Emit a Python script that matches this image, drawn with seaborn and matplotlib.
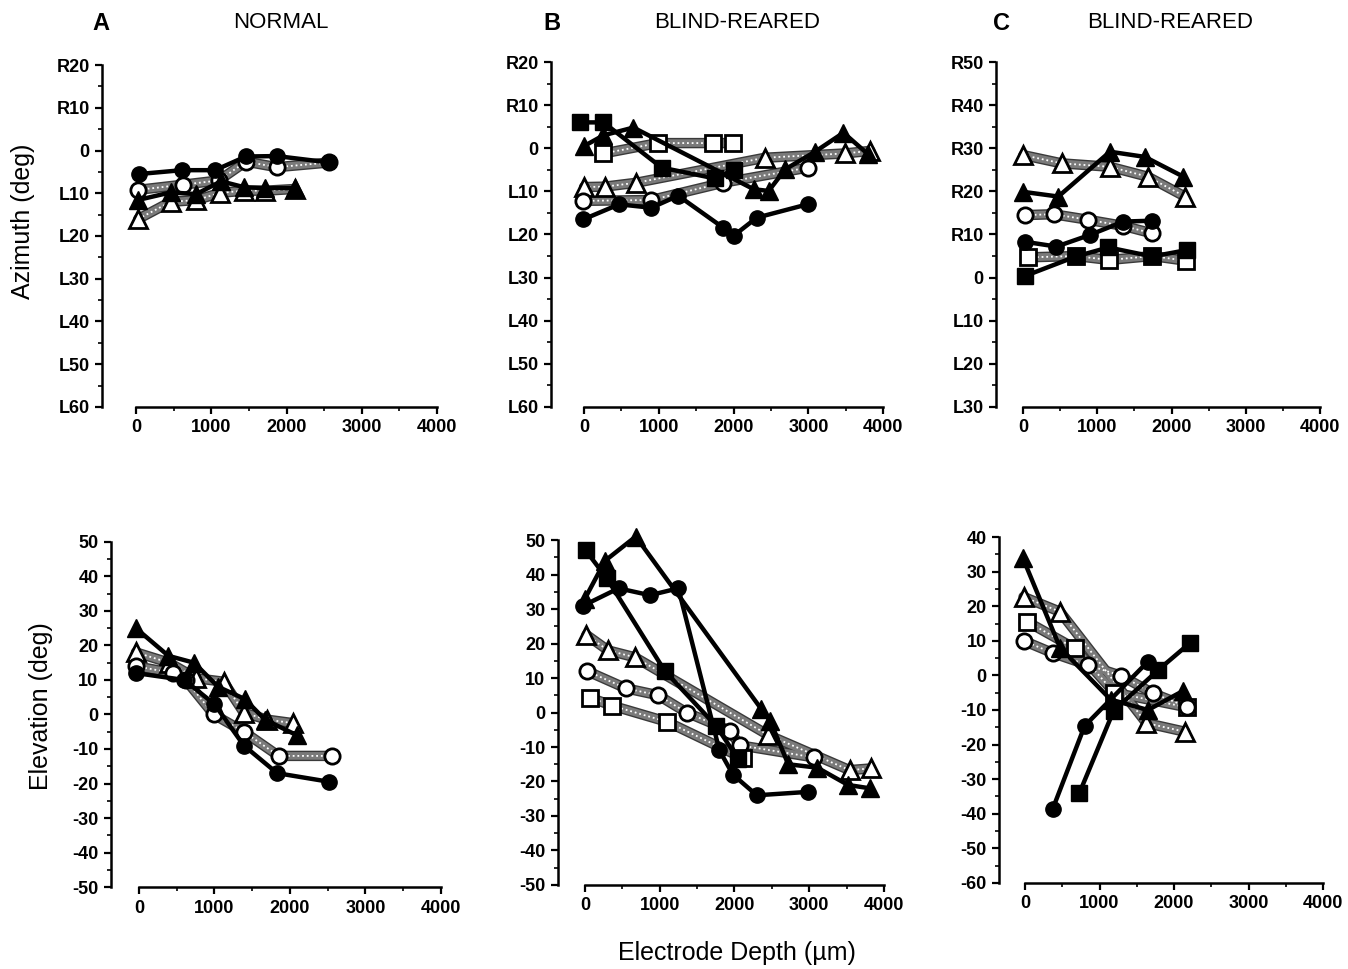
import pandas as pd
import matplotlib
matplotlib.use("Agg")
import matplotlib.pyplot as plt
import seaborn as sns
from matplotlib.ticker import MultipleLocator, FuncFormatter

# (depth in um, angle in deg); azimuth: right = positive, left = negative

# --- A, normal, azimuth
a_az_filled_circle = [(40, -5.5), (610, -4.6), (1050, -4.6), (1460, -1.4), (1870, -1.3), (2570, -2.8)]
a_az_open_circle = [(30, -9.2), (620, -8.0), (1100, -7.0), (1460, -2.6), (1870, -3.9), (2570, -2.8)]
a_az_filled_triangle = [(20, -11.6), (460, -9.8), (800, -10.2), (1130, -7.2), (1440, -8.6), (1720, -8.8), (2110, -8.8)]
a_az_open_triangle = [(30, -16.0), (460, -12.0), (800, -11.6), (1120, -9.9), (1440, -9.4), (1720, -9.4), (2110, -9.0)]

# --- A, normal, elevation
a_el_filled_triangle = [(-40, 25), (390, 17), (730, 15), (1050, 8), (1400, 4.5), (1670, -1.5), (2090, -6)]
a_el_open_triangle = [(-40, 18), (400, 15), (760, 10.5), (1120, 9.5), (1390, 0.5), (1700, -1.5), (2040, -2.5)]
a_el_open_circle = [(-40, 14), (450, 12), (620, 10), (990, 0), (1390, -5), (1850, -12), (2560, -12)]
a_el_filled_circle = [(-40, 12), (600, 10), (1000, 3), (1390, -9), (1830, -17), (2520, -19.5)]

# --- B, blind-reared, azimuth
b_az_filled_square = [(-50, 6), (260, 6), (1040, -4.5), (1750, -7), (2000, -5)]
b_az_filled_triangle = [(0, 0.5), (260, 3), (660, 4.8), (2270, -9.5), (2470, -9.9), (2690, -4.9),
                        (3090, -0.8), (3470, 3.6), (3800, -1.4)]
b_az_filled_circle = [(-10, -16.5), (470, -13), (900, -13.8), (1260, -11), (1860, -18.4), (2000, -20.3),
                      (2310, -16.1), (2990, -13)]
b_az_open_square = [(260, -1.2), (990, 1.2), (1730, 1.2), (1990, 1.2)]
b_az_open_triangle = [(0, -9), (280, -8.9), (700, -8), (2420, -2.2), (3490, -1.2), (3830, -0.6)]
b_az_open_circle = [(-10, -12.2), (900, -12), (1860, -8), (2990, -4.5)]

# --- B, blind-reared, elevation
b_el_filled_square = [(10, 47), (290, 39), (1070, 12), (1760, -4), (2050, -13.5)]
b_el_filled_triangle = [(0, 33), (270, 44), (680, 51), (2360, 1), (2480, -2.5), (2720, -15), (3110, -16),
                        (3520, -21), (3820, -22)]
b_el_filled_circle = [(-20, 31), (450, 36), (870, 34), (1250, 36), (1800, -11), (1980, -18), (2300, -24),
                      (2990, -23)]
b_el_open_triangle = [(20, 22.5), (310, 18), (670, 16), (2450, -6.5), (3540, -16.7), (3830, -16.2)]
b_el_open_circle = [(30, 12), (550, 7), (980, 5), (1360, 0), (1940, -5.3), (2070, -9.5), (3060, -13)]
b_el_open_square = [(70, 4.3), (360, 2), (1100, -2.7), (2120, -13.3)]

# --- C, blind-reared, azimuth
c_az_open_triangle = [(5, 28.4), (520, 26.5), (1170, 25.7), (1680, 23.4), (2180, 18.8)]
c_az_filled_triangle = [(0, 19.9), (475, 18.8), (1170, 29.2), (1640, 28), (2160, 23.4)]
c_az_open_circle = [(30, 14.5), (410, 14.7), (880, 13.4), (1350, 12), (1730, 10.3)]
c_az_filled_circle = [(30, 8.3), (450, 7.2), (900, 9.9), (1350, 13), (1740, 13.2)]
c_az_filled_square = [(30, 0.4), (710, 4.9), (1150, 7), (1740, 4.9), (2210, 6.4)]
c_az_open_square = [(60, 4.7), (710, 5), (1160, 4.1), (1740, 5), (2200, 3.9)]

# --- C, blind-reared, elevation
c_el_filled_triangle = [(-30, 34), (470, 8), (1150, -7), (1650, -10), (2120, -4.5)]
c_el_open_triangle = [(-20, 22.7), (470, 18.4), (1630, -13.8), (2150, -16.3)]
c_el_open_square = [(30, 15.5), (670, 7.8), (1200, -5), (2170, -9.2)]
c_el_open_circle = [(-20, 10), (380, 6.4), (840, 3), (1290, -0.1), (1720, -5.2), (2170, -9)]
c_el_filled_circle = [(370, -38.7), (800, -14.6), (1650, 4)]
c_el_filled_square = [(730, -34), (1190, -10.2), (1790, 1.6), (2210, 9.3)]

panel_letters = ["A", "B", "C"]
panel_titles = ["NORMAL", "BLIND-REARED", "BLIND-REARED"]
az_limits = [(-60, 20), (-60, 20), (-30, 50)]
el_limits = [(-50, 50), (-50, 50), (-60, 40)]

sns.set_theme(style="ticks")
plt.rcParams["font.family"] = ["Liberation Sans", "DejaVu Sans"]
plt.rcParams["text.color"] = "black"
plt.rcParams["axes.labelcolor"] = "black"
plt.rcParams["xtick.color"] = "black"
plt.rcParams["ytick.color"] = "black"
plt.rcParams["axes.unicode_minus"] = False

SIZES = {"o": 11, "s": 11, "^": 13}


def draw_open(ax, pts, marker):
    df = pd.DataFrame(pts, columns=["depth", "deg"])
    sns.lineplot(data=df, x="depth", y="deg", ax=ax, color="#3a3a3a", lw=7.5,
                 sort=False, estimator=None, zorder=2, clip_on=False)
    sns.lineplot(data=df, x="depth", y="deg", ax=ax, color="#7a7a7a", lw=5.5,
                 sort=False, estimator=None, zorder=2.05, clip_on=False)
    sns.lineplot(data=df, x="depth", y="deg", ax=ax, color="white", lw=1.3,
                 linestyle=(0, (1, 1.6)), sort=False, estimator=None, zorder=2.1, clip_on=False)
    sns.lineplot(data=df, x="depth", y="deg", ax=ax, linestyle="none", marker=marker,
                 markersize=SIZES[marker], mfc="white", mec="black", mew=2,
                 sort=False, estimator=None, zorder=2.5, clip_on=False)


def draw_filled(ax, pts, marker):
    df = pd.DataFrame(pts, columns=["depth", "deg"])
    sns.lineplot(data=df, x="depth", y="deg", ax=ax, color="black", lw=3.2, marker=marker,
                 markersize=SIZES[marker], mfc="black", mec="black", mew=1,
                 sort=False, estimator=None, zorder=3, clip_on=False)


def style_axis(ax, ylim, xmin, az=False):
    ax.set_xlim(xmin, 4000)
    ax.set_ylim(*ylim)
    ax.set(xlabel="", ylabel="")
    sns.despine(ax=ax)
    ax.spines["bottom"].set_bounds(0, 4000)
    for side in ("left", "bottom"):
        ax.spines[side].set_linewidth(1.8)
        ax.spines[side].set_color("black")
    ax.xaxis.set_major_locator(MultipleLocator(1000))
    ax.xaxis.set_minor_locator(MultipleLocator(500))
    ax.yaxis.set_major_locator(MultipleLocator(10))
    ax.yaxis.set_minor_locator(MultipleLocator(5))
    if az:
        ax.yaxis.set_major_formatter(FuncFormatter(
            lambda v, p: "0" if v == 0 else (f"R{int(v)}" if v > 0 else f"L{int(-v)}")))
    ax.tick_params(which="major", direction="out", length=5, width=1.6, colors="black",
                   labelsize=13, pad=4)
    ax.tick_params(which="minor", direction="out", length=3, width=1.2, colors="black")
    for lab in ax.get_xticklabels() + ax.get_yticklabels():
        lab.set_fontweight("bold")


fig = plt.figure(figsize=(13.48, 9.69), dpi=100)

top_pos = [(0.0757, 0.5800, 0.2485, 0.3529), (0.4088, 0.5800, 0.2463, 0.3560), (0.7389, 0.5800, 0.2404, 0.3560)]
bot_pos = [(0.0823, 0.0846, 0.2448, 0.3561), (0.4139, 0.0867, 0.2418, 0.3560), (0.7411, 0.0888, 0.2404, 0.3570)]
top_xmin = [-452, -441, -364]
bot_xmin = [-371, -361, -349]

az_axes = [fig.add_axes(p) for p in top_pos]
el_axes = [fig.add_axes(p) for p in bot_pos]

# panel A
draw_open(az_axes[0], a_az_open_triangle, "^")
draw_open(az_axes[0], a_az_open_circle, "o")
draw_filled(az_axes[0], a_az_filled_triangle, "^")
draw_filled(az_axes[0], a_az_filled_circle, "o")
draw_open(el_axes[0], a_el_open_triangle, "^")
draw_open(el_axes[0], a_el_open_circle, "o")
draw_filled(el_axes[0], a_el_filled_triangle, "^")
draw_filled(el_axes[0], a_el_filled_circle, "o")

# panel B
draw_open(az_axes[1], b_az_open_square, "s")
draw_open(az_axes[1], b_az_open_triangle, "^")
draw_open(az_axes[1], b_az_open_circle, "o")
draw_filled(az_axes[1], b_az_filled_square, "s")
draw_filled(az_axes[1], b_az_filled_triangle, "^")
draw_filled(az_axes[1], b_az_filled_circle, "o")
draw_open(el_axes[1], b_el_open_triangle, "^")
draw_open(el_axes[1], b_el_open_circle, "o")
draw_open(el_axes[1], b_el_open_square, "s")
draw_filled(el_axes[1], b_el_filled_square, "s")
draw_filled(el_axes[1], b_el_filled_triangle, "^")
draw_filled(el_axes[1], b_el_filled_circle, "o")

# panel C
draw_open(az_axes[2], c_az_open_triangle, "^")
draw_open(az_axes[2], c_az_open_circle, "o")
draw_open(az_axes[2], c_az_open_square, "s")
draw_filled(az_axes[2], c_az_filled_triangle, "^")
draw_filled(az_axes[2], c_az_filled_circle, "o")
draw_filled(az_axes[2], c_az_filled_square, "s")
draw_open(el_axes[2], c_el_open_triangle, "^")
draw_open(el_axes[2], c_el_open_square, "s")
draw_open(el_axes[2], c_el_open_circle, "o")
draw_filled(el_axes[2], c_el_filled_triangle, "^")
draw_filled(el_axes[2], c_el_filled_circle, "o")
draw_filled(el_axes[2], c_el_filled_square, "s")

for i in range(3):
    style_axis(az_axes[i], az_limits[i], top_xmin[i], az=True)
    style_axis(el_axes[i], el_limits[i], bot_xmin[i])

# panel headings
letter_x = [101, 552, 1002]
title_x = [281, 737, 1170]
for i in range(3):
    fig.text(letter_x[i] / 1348, 1 - 23 / 969, panel_letters[i], ha="center", va="center",
             fontsize=17, fontweight="bold")
    fig.text(title_x[i] / 1348, 1 - 23 / 969, panel_titles[i], ha="center", va="center", fontsize=16)

fig.text(23 / 1348, 1 - 221 / 969, "Azimuth (deg)", rotation=90, ha="center", va="center", fontsize=18)
fig.text(41 / 1348, 1 - 706 / 969, "Elevation (deg)", rotation=90, ha="center", va="center", fontsize=18)
fig.text(737 / 1348, 1 - 953 / 969, "Electrode Depth (\u00b5m)", ha="center", va="center", fontsize=18)

fig.savefig("out.png", dpi=100)
